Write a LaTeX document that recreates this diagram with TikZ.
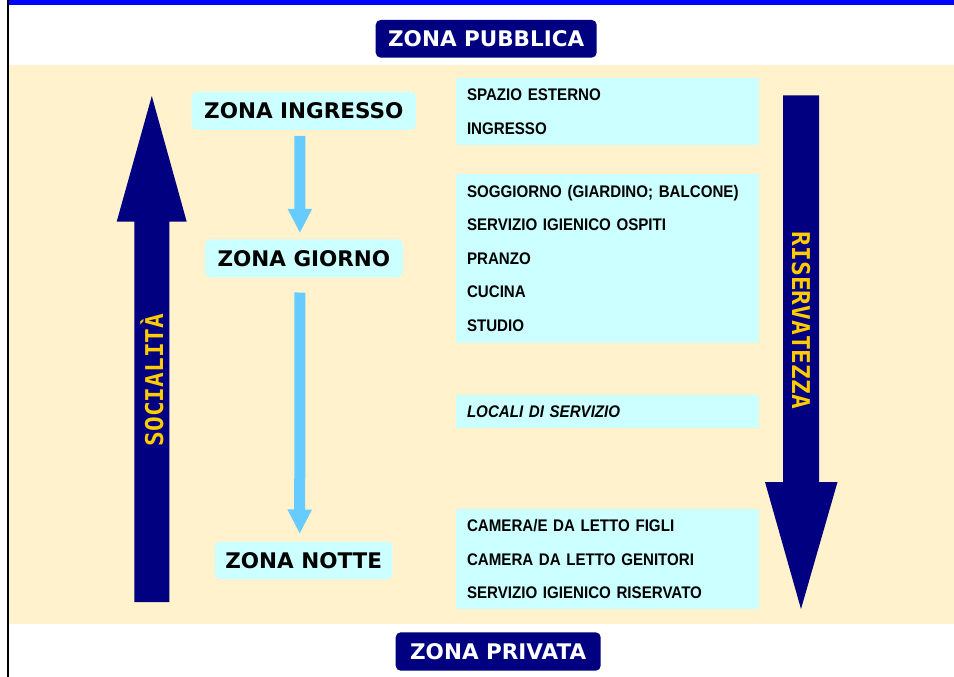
\documentclass[tikz,border=0pt]{standalone}
\usepackage{fontspec}
\usetikzlibrary{arrows.meta}
\newfontfamily\zonefont{DejaVu Sans}
\newfontfamily\listfont[FakeStretch=0.9]{Liberation Sans}
\newfontfamily\arrowtxtfont{DejaVu Sans Mono}
\definecolor{beige}{HTML}{FFF2CC}
\definecolor{cyanbox}{HTML}{CCFFFF}
\definecolor{navy}{HTML}{000080}
\definecolor{lightarrow}{HTML}{66CCFF}
\definecolor{gold}{HTML}{FFCC00}
\definecolor{topblue}{HTML}{0000FF}
\tikzset{
  zonebox/.style={fill=cyanbox, rounded corners=5pt, inner sep=0pt, text=black,
    font={\zonefont\bfseries\fontsize{21.5pt}{24pt}\selectfont}},
  darkbox/.style={fill=navy, rounded corners=5pt, inner sep=0pt, text=white,
    font={\zonefont\bfseries\fontsize{21.5pt}{24pt}\selectfont}},
  listbox/.style={fill=cyanbox, inner xsep=11pt, inner ysep=0pt, text width=281pt,
    align=left, minimum width=303pt, text=black,
    font={\listfont\bfseries\fontsize{16.8pt}{33.5pt}\selectfont}},
  lbarrow/.style={draw=lightarrow, line width=11pt,
    -{Triangle[width=22.7pt,length=24.3pt]}},
  bigarrowtext/.style={text=gold, inner sep=0pt,
    font={\arrowtxtfont\bfseries\fontsize{24.5pt}{26pt}\selectfont}}
}
\begin{document}
\begin{tikzpicture}[x=1pt,y=-1pt]
\useasboundingbox (0,0) rectangle (954,677);
\fill[white] (0,0) rectangle (954,677);
% frame
\fill[beige] (9,65) rectangle (954,624);
\fill[topblue] (7,0) rectangle (954,4.7);
\draw[black, line width=2.2pt] (7.6,0) -- (7.6,677);

% public / private labels
\node[darkbox, minimum width=221pt, minimum height=37.7pt] (pub) at (486.2,38.8) {ZONA PUBBLICA};
\node[darkbox, minimum width=205pt, minimum height=38.4pt] (priv) at (498.2,651.5) {ZONA PRIVATA};

% big arrows
\fill[navy] (134.3,602) -- (134.3,221.7) -- (116.7,221.7) -- (151.8,96)
  -- (186.7,221.7) -- (169.3,221.7) -- (169.3,602) -- cycle;
\fill[navy] (783,95.5) -- (819,95.5) -- (819,482) -- (837.5,482) -- (801,609)
  -- (765,482) -- (783,482) -- cycle;
\node[bigarrowtext, rotate=90] (soc) at (152,380) {SOCIALITÀ};
\node[bigarrowtext, rotate=-90] (ris) at (801,320.5) {RISERVATEZZA};

% zones
\node[zonebox, minimum width=224.3pt, minimum height=38.3pt] (ing) at (303.8,110.8) {ZONA INGRESSO};
\node[zonebox, minimum width=197.7pt, minimum height=38pt] (gio) at (303.9,258.3) {ZONA GIORNO};
\node[zonebox, minimum width=177.3pt, minimum height=37.6pt] (not) at (303.7,560.5) {ZONA NOTTE};

\draw[lbarrow, shorten <=5.7pt, shorten >=6pt] ([xshift=-4pt]ing.south) -- ([xshift=-4pt]gio.north);
\draw[lbarrow, shorten <=15pt, shorten >=7.7pt] ([xshift=-4pt]gio.south) -- ([xshift=-4pt]not.north);

% room lists
\node[listbox, minimum height=66.7pt] (l1) at (607.5,111.7) {SPAZIO ESTERNO\\INGRESSO};
\node[listbox, minimum height=168.7pt] (l2) at (607.5,258.3) {SOGGIORNO (GIARDINO; BALCONE)\\SERVIZIO IGIENICO OSPITI\\PRANZO\\CUCINA\\STUDIO};
\node[listbox, minimum height=32.7pt] (l3) at (607.5,411.3) {\itshape LOCALI DI SERVIZIO};
\node[listbox, minimum height=100pt] (l4) at (607.5,559.3) {CAMERA/E DA LETTO FIGLI\\CAMERA DA LETTO GENITORI\\SERVIZIO IGIENICO RISERVATO};
\end{tikzpicture}
\end{document}
